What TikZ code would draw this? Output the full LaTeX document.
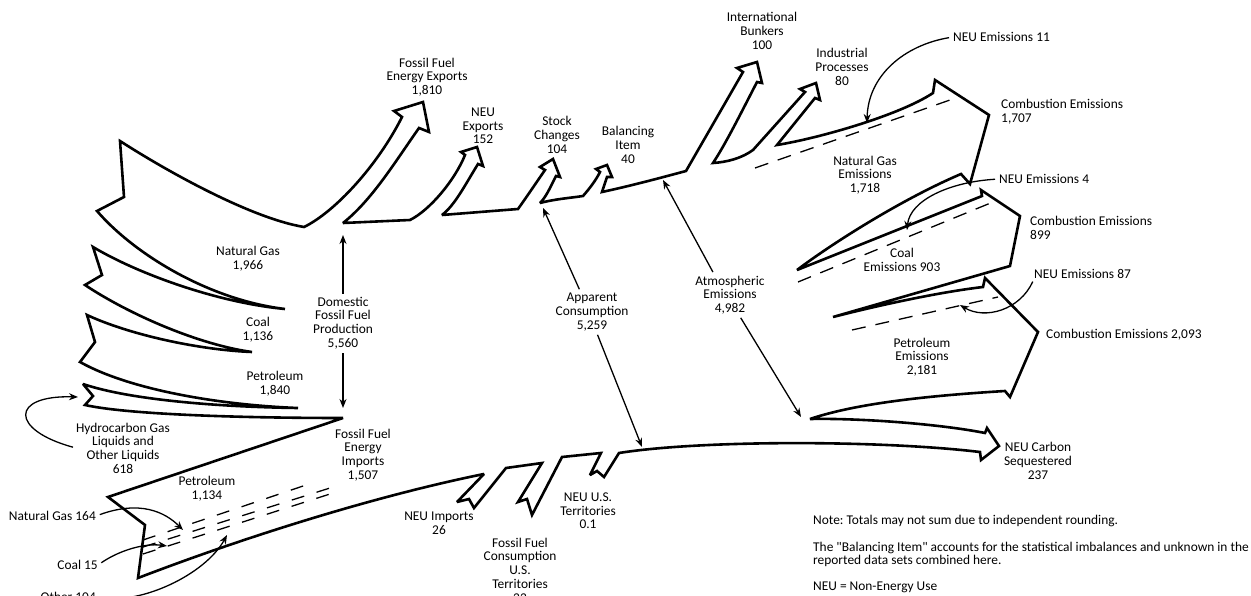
\documentclass[tikz,border=0pt]{standalone}
\usepackage{fontspec}
\setmainfont{Carlito}
\usetikzlibrary{arrows.meta}
\frenchspacing
\begin{document}
\begin{tikzpicture}[x=1pt,y=-1pt,
  band/.style={line width=2.6pt, line join=miter, miter limit=3},
  dashline/.style={line width=1.3pt, dash pattern=on 13pt off 13pt},
  dashline2/.style={line width=1.3pt, dash pattern=on 14pt off 10pt},
  ann/.style={line width=1.3pt, -{Stealth[length=9pt,width=7pt]}},
  lbl/.style={font=\fontsize{13.4}{13.7}\selectfont, align=center, inner sep=0pt}]
\useasboundingbox (0,0) rectangle (1251,596);

% ---------- single outline of the whole flow ----------
\draw[band] (120,141)
 .. controls (165,170) and (250,218) .. (304,227)
 .. controls (335,212) and (378,165) .. (402,117)
 -- (394,111) -- (423,102) -- (429,132) -- (419,128)
 .. controls (395,162) and (372,200) .. (343,223)
 -- (410,220)
 .. controls (430,210) and (455,180) .. (465,155)
 -- (461,152) -- (477,147) -- (483,166) -- (478,164)
 .. controls (465,185) and (455,205) .. (442,215)
 -- (518,209)
 .. controls (528,195) and (538,180) .. (545,170)
 -- (540,167) -- (553,159) -- (560,177) -- (556,176)
 .. controls (550,188) and (546,197) .. (540,203)
 .. controls (555,199) and (570,198) .. (583,196)
 .. controls (590,188) and (596,180) .. (600,172)
 -- (596,169) -- (607,165) -- (612,177) -- (607,177)
 -- (602,192)
 .. controls (630,186) and (660,178) .. (686,171)
 -- (743,72) -- (737,68) -- (757,62) -- (762,83) -- (757,82)
 .. controls (740,115) and (725,145) .. (713,163)
 .. controls (728,162) and (742,158) .. (753,150)
 -- (805,92) -- (800,89) -- (816,83) -- (820,100) -- (815,98)
 -- (777,145)
 .. controls (820,138) and (900,115) .. (933,93)
 -- (935,80) -- (989,115) -- (970,184) -- (961,174)
 .. controls (900,200) and (830,245) .. (797,270)
 -- (982,196) -- (981,190) -- (1020,216) -- (1010,266)
 -- (833,317)
 .. controls (880,305) and (940,292) .. (983,287)
 -- (985,278) -- (1038,332) -- (1010,397) -- (1005,391)
 .. controls (940,395) and (860,402) .. (810,419)
 .. controls (860,418) and (940,424) .. (985,433)
 -- (987,428) -- (999,446) -- (981,460) -- (980,452)
 .. controls (880,440) and (700,440) .. (619,453)
 -- (604,477) -- (597,471) -- (590,475) -- (601,453)
 -- (562,457) -- (532,515) -- (527,499) -- (518,502) -- (542,463)
 -- (506,468) -- (474,508) -- (469,499) -- (457,502) -- (484,474)
 .. controls (380,495) and (250,535) .. (138,578)
 -- (145,525) -- (108,497) -- (343,418)
 .. controls (250,418) and (130,415) .. (85,405)
 -- (93,396) -- (83,384)
 .. controls (130,400) and (220,407) .. (298,408)
 .. controls (220,405) and (130,390) .. (80,362)
 -- (95,342) -- (87,315)
 .. controls (130,335) and (200,350) .. (252,352)
 .. controls (200,345) and (130,315) .. (85,285)
 -- (102,275) -- (93,247)
 .. controls (140,275) and (220,303) .. (285,309)
 .. controls (210,300) and (135,255) .. (97,211)
 -- (124,197) -- cycle;

% ---------- dashed sub-flows ----------
\draw[dashline] (143,540) -- (315,482);
\draw[dashline] (143,547) -- (330,488);
\draw[dashline] (143,554) -- (330,494);
\draw[dashline2] (755,168) -- (950,100);
\draw[dashline2] (798,282) -- (993,202);
\draw[dashline2] (852,330) -- (998,297);

% ---------- labels ----------
\node[lbl] (ffexp) at (427,77) {Fossil Fuel\\Energy Exports\\1,810};
\node[lbl] (neuexp) at (483,126) {NEU\\Exports\\152};
\node[lbl] (stock) at (557,135) {Stock\\Changes\\104};
\node[lbl] (bal) at (628,145) {Balancing\\Item\\40};
\node[lbl] (bunk) at (762,31) {International\\Bunkers\\100};
\node[lbl] (ind) at (842,67) {Industrial\\Processes\\80};
\node[lbl, anchor=west] (neu11) at (953,37) {NEU Emissions 11};
\node[lbl, anchor=west, align=left] (comb1) at (1001,112) {Combustion Emissions\\1,707};
\node[lbl] (ngem) at (865,175) {Natural Gas\\Emissions\\1,718};
\node[lbl, anchor=west] (neu4) at (999,179) {NEU Emissions 4};
\node[lbl, anchor=west, align=left] (comb2) at (1030,228) {Combustion Emissions\\899};
\node[lbl] (coalem) at (902,260) {Coal\\Emissions 903};
\node[lbl, anchor=west] (neu87) at (1034,274) {NEU Emissions 87};
\node[lbl, anchor=west] (comb3) at (1046,335) {Combustion Emissions 2,093};
\node[lbl] (petem) at (922,357) {Petroleum\\Emissions\\2,181};
\node[lbl] (seq) at (1038,461) {NEU Carbon\\Sequestered\\237};
\node[lbl] (atm) at (730,295) {Atmospheric\\Emissions\\4,982};
\node[lbl] (app) at (592,312) {Apparent\\Consumption\\5,259};
\node[lbl] (dom) at (343,323) {Domestic\\Fossil Fuel\\Production\\5,560};
\node[lbl] (ngp) at (248,259) {Natural Gas\\1,966};
\node[lbl] (coalp) at (258,330) {Coal\\1,136};
\node[lbl] (petp) at (275,384) {Petroleum\\1,840};
\node[lbl] (imp) at (363,455) {Fossil Fuel\\Energy\\Imports\\1,507};
\node[lbl] (peti) at (207,489) {Petroleum\\1,134};
\node[lbl] (hgl) at (123,448) {Hydrocarbon Gas\\Liquids and\\Other Liquids\\618};
\node[lbl, anchor=east] (ng164) at (96,516) {Natural Gas 164};
\node[lbl, anchor=east] (coal15) at (98,565) {Coal 15};
\node[lbl, anchor=east] (oth) at (96,597) {Other 104};
\node[lbl] (neuimp) at (439,523) {NEU Imports\\26};
\node[lbl] (ffcons) at (520,570) {Fossil Fuel\\Consumption\\U.S.\\Territories\\22};
\node[lbl] (neuterr) at (588,511) {NEU U.S.\\Territories\\0.1};
\node[lbl, anchor=west, align=left] (note1) at (813,521) {Note: Totals may not sum due to independent rounding.};
\node[lbl, anchor=west, align=left] (note2) at (813,554.5) {The \textquotedbl Balancing Item\textquotedbl{} accounts for the statistical imbalances and unknown in the\\reported data sets combined here.};
\node[lbl, anchor=west, align=left] (note3) at (813,587) {NEU = Non-Energy Use};

% ---------- arrow targets ----------
\coordinate (t164) at (183,530);
\coordinate (t15) at (167,546);
\coordinate (t104) at (227,535);
\coordinate (thgl) at (78,397);
\coordinate (tn11) at (867,123);
\coordinate (tn4) at (907,230);
\coordinate (tn87) at (960,305);
\coordinate (tdomU) at (343,235);
\coordinate (tdomD) at (343,408);
\coordinate (tappU) at (543,208);
\coordinate (tappD) at (642,447);
\coordinate (tatmU) at (663,180);
\coordinate (tatmD) at (801,417);

% ---------- annotation arrows ----------
\draw[ann, shorten <=3pt] (dom.north) -- (tdomU);
\draw[ann, shorten <=4pt] (dom.south) -- (tdomD);
\draw[ann, shorten <=4pt] (app.120) -- (tappU);
\draw[ann, shorten <=4pt] (app.282) -- (tappD);
\draw[ann, shorten <=4pt] (atm.128) -- (tatmU);
\draw[ann, shorten <=4pt] (atm.294) -- (tatmD);
\draw[ann, shorten <=3pt] (hgl.west) .. controls (10,430) and (10,395) .. (thgl);
\draw[ann, shorten <=4pt] (ng164.east) .. controls (140,500) and (165,512) .. (t164);
\draw[ann, shorten <=4pt] (coal15.east) .. controls (120,550) and (145,543) .. (t15);
\draw[ann, shorten <=4pt] (oth.east) .. controls (140,605) and (205,575) .. (t104);
\draw[ann, shorten <=4pt] (neu11.west) .. controls (905,45) and (868,75) .. (tn11);
\draw[ann, shorten <=4pt] (neu4.west) .. controls (950,182) and (910,200) .. (tn4);
\draw[ann, shorten <=3pt] (neu87.south west) .. controls (1020,310) and (985,320) .. (tn87);
\end{tikzpicture}
\end{document}
